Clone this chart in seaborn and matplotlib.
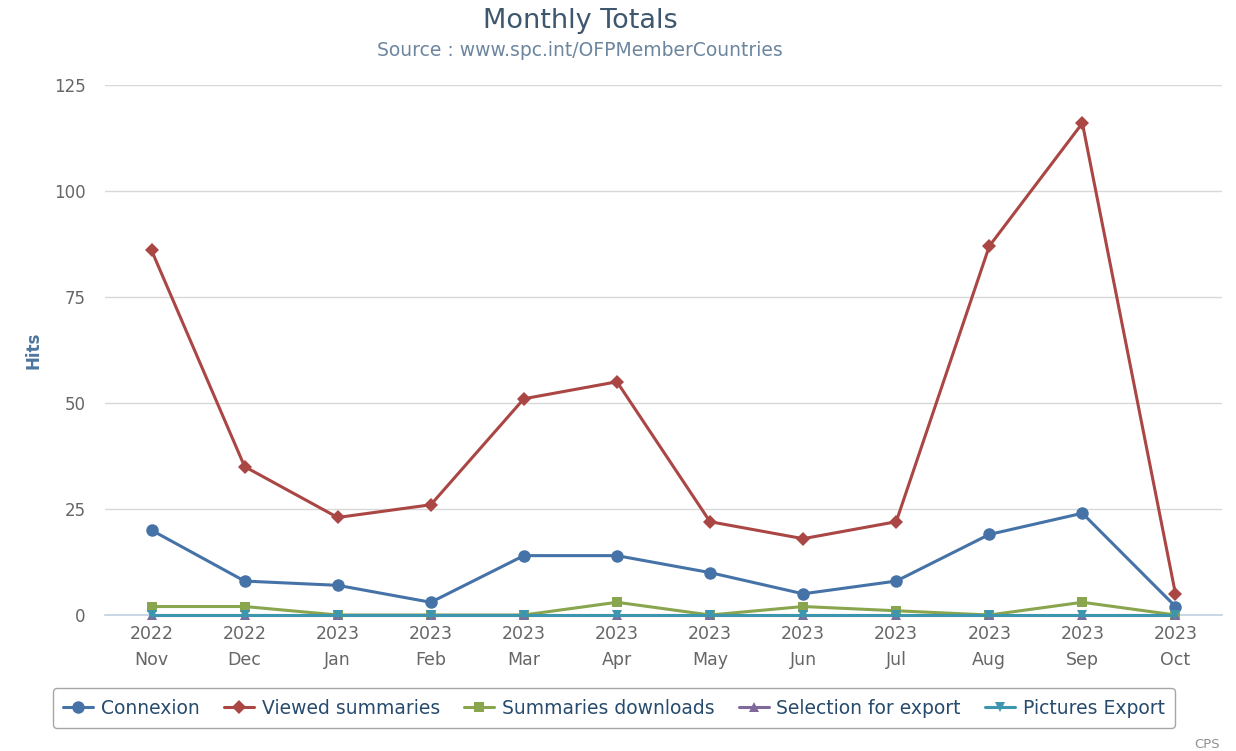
import matplotlib
matplotlib.use("Agg")
import matplotlib.pyplot as plt
import seaborn as sns
import pandas as pd
import numpy as np

years = ["2022", "2022", "2023", "2023", "2023", "2023", "2023", "2023", "2023", "2023", "2023", "2023"]
months = ["Nov", "Dec", "Jan", "Feb", "Mar", "Apr", "May", "Jun", "Jul", "Aug", "Sep", "Oct"]

connexion = [20, 8, 7, 3, 14, 14, 10, 5, 8, 19, 24, 2]
viewed_summaries = [86, 35, 23, 26, 51, 55, 22, 18, 22, 87, 116, 5]
summaries_downloads = [2, 2, 0, 0, 0, 3, 0, 2, 1, 0, 3, 0]
selection_for_export = [0, 0, 0, 0, 0, 0, 0, 0, 0, 0, 0, 0]
pictures_export = [0, 0, 0, 0, 0, 0, 0, 0, 0, 0, 0, 0]

series_names = ["Connexion", "Viewed summaries", "Summaries downloads",
                "Selection for export", "Pictures Export"]
series_values = [connexion, viewed_summaries, summaries_downloads,
                 selection_for_export, pictures_export]
colors = ["#4572A7", "#AA4643", "#89A54E", "#80699B", "#3D96AE"]
markers = ["o", "D", "s", "^", "v"]
msizes = [9, 7, 7, 7.5, 7.5]

tick_labels = [f"{y}\n{m}" for y, m in zip(years, months)]

rows = []
for name, vals in zip(series_names, series_values):
    for i, v in enumerate(vals):
        rows.append({"series": name, "idx": i, "value": v})
df = pd.DataFrame(rows)

sns.set_style("white")
plt.rcParams["font.family"] = ["DejaVu Sans"]

fig = plt.figure(figsize=(12.36, 7.51), dpi=100)
ax = fig.add_axes([105 / 1236, 1 - 615 / 751, (1222 - 105) / 1236, (615 - 85) / 751])

handles = []
for k, (name, col, mk, ms) in enumerate(zip(series_names, colors, markers, msizes)):
    sub = df[df["series"] == name]
    sns.lineplot(data=sub, x="idx", y="value", ax=ax, color=col, linewidth=2.2,
                 marker=mk, markersize=ms, markeredgewidth=0, zorder=3 + k,
                 clip_on=False, legend=False)
    h, = ax.plot([], [], color=col, linewidth=2.2, marker=mk, markersize=ms,
                 markeredgewidth=0)
    handles.append(h)

ax.set_xlim(-0.5, 11.5)
ax.set_ylim(0, 125)
ax.set_yticks([0, 25, 50, 75, 100, 125])
ax.set_xticks(range(12))
ax.set_xticklabels(tick_labels)
ax.set_xticks(np.arange(-0.5, 12, 1), minor=True)
ax.tick_params(axis="x", which="major", length=0, pad=7, labelsize=12.5, colors="#666666")
ax.tick_params(axis="x", which="minor", length=6, width=1, color="#C0D0E0", direction="out")
ax.tick_params(axis="y", length=0, pad=14, labelsize=12, colors="#666666")
for lbl in ax.get_xticklabels():
    lbl.set_linespacing(1.6)
ax.grid(axis="y", color="#D8D8D8", linewidth=1)
ax.set_axisbelow(True)
for s in ["top", "right", "left"]:
    ax.spines[s].set_visible(False)
ax.spines["bottom"].set_color("#C0D0E0")
ax.spines["bottom"].set_linewidth(1.2)
ax.spines["bottom"].set_zorder(2)
ax.set_xlabel("")
ax.set_ylabel("Hits", color="#4D759E", fontsize=12, fontweight="bold", labelpad=8)

fig.text(580 / 1236, 1 - 21 / 751, "Monthly Totals", ha="center", va="center",
         fontsize=19.5, color="#3E576F")
fig.text(580 / 1236, 1 - 50 / 751, "Source : www.spc.int/OFPMemberCountries",
         ha="center", va="center", fontsize=13.5, color="#6D869F")
fig.text(1220 / 1236, 1 - 744 / 751, "CPS", ha="right", va="center",
         fontsize=9.5, color="#909090")

leg = fig.legend(handles, series_names, loc="center", ncol=5,
                 bbox_to_anchor=(614 / 1236, 1 - 708 / 751),
                 frameon=True, fancybox=True, edgecolor="#909090",
                 fontsize=13.5, handlelength=1.6, handletextpad=0.4,
                 columnspacing=1.3, borderpad=0.55, labelcolor="#274B6D")
leg.get_frame().set_linewidth(1)

fig.savefig("out.png", dpi=100)
